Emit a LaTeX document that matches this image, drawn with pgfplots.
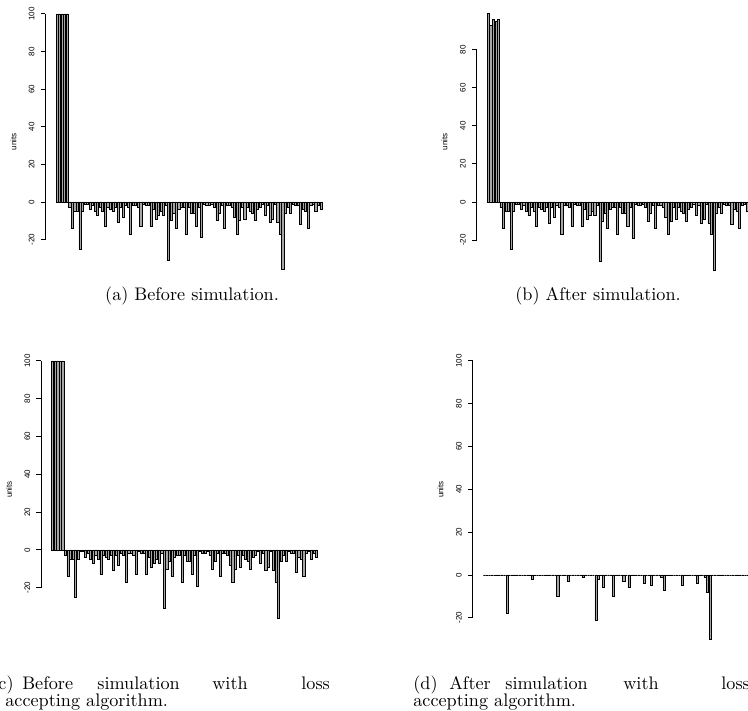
\documentclass[border=0pt]{standalone}
\usepackage{pgfplots}
\usepackage{pgfplotstable}
\pgfplotsset{compat=1.18}
\usepackage{fontspec}
\newfontfamily\rfont{Liberation Sans}
\definecolor{rgrey}{RGB}{165,165,165}

% i = bar index, a = before, b = after, d = after with loss accepting
\pgfplotstableread{
i a b d
1 100 99 0
2 100 93 0
3 100 96 0
4 100 95 0
5 100 96 0
6 -3 -3 0
7 -14 -14 0
8 -5 -5 0
9 -5 -5 0
10 -25 -25 -18
11 -5 -5 0
12 -1 -1 0
13 -1 -1 0
14 -4 -4 0
15 -2 -2 0
16 -5 -5 0
17 -7 -7 0
18 -3 -3 0
19 -5 -5 0
20 -13 -13 -2
21 -3 -3 0
22 -4 -4 0
23 -5 -5 0
24 -3 -3 0
25 -11 -11 0
26 -3 -3 0
27 -8 -8 0
28 -2 -2 0
29 -3 -3 0
30 -17 -17 -10
31 -2 -2 0
32 -2 -2 0
33 -3 -3 0
34 -13 -13 -3
35 -1 -1 0
36 -2 -2 0
37 -2 -2 0
38 -13 -13 0
39 -4 -4 0
40 -9 -9 -1
41 -7 -7 0
42 -5 -5 0
43 -7 -7 0
44 -2 -2 0
45 -31 -31 -21
46 -10 -10 -2
47 -6 -6 0
48 -14 -14 -6
49 -4 -4 0
50 -3 -3 0
51 -3 -3 0
52 -17 -17 -10
53 -3 -3 0
54 -6 -6 0
55 -6 -6 0
56 -13 -13 -3
57 -3 -3 0
58 -19 -19 -6
59 -1 -1 0
60 -2 -2 0
61 -2 -2 0
62 -1 -1 0
63 -3 -3 0
64 -10 -10 -4
65 -6 -6 0
66 -2 -2 0
67 -14 -14 -5
68 -2 -2 0
69 -2 -2 0
70 -3 -3 0
71 -8 -8 -1
72 -17 -17 -7
73 -10 -10 0
74 -3 -3 0
75 -9 -9 0
76 -3 -3 0
77 -5 -5 0
78 -6 -6 0
79 -10 -10 -5
80 -4 -4 0
81 -3 -3 0
82 -1 -1 0
83 -7 -7 0
84 -2 -2 0
85 -11 -11 -4
86 -9 -9 0
87 -1 -1 0
88 -11 -11 -1
89 -17 -17 -8
90 -36 -36 -30
91 -6 -6 0
92 -3 -3 0
93 -6 -6 0
94 -1 -1 0
95 -2 -2 0
96 -2 -2 0
97 -12 -12 0
98 -4 -4 0
99 -5 -5 0
100 -14 -14 0
101 -2 -2 0
102 -1 -1 0
103 -5 -5 0
104 -2 -2 0
105 -4 -4 0
}\units

\newcommand\rsize{\rfont\fontsize{4.4}{5}\selectfont}
\pgfplotsset{
  rbar/.style={
    scale only axis, width=158pt,
    xmin=-3.62, xmax=109.62,
    axis x line=none, axis y line*=left,
    y axis line style={draw=none},
    ybar, bar width=0.833, bar shift=0pt,
    clip=false,
    tick align=outside, major tick length=2.5pt,
    ytick style={black, line width=0.5pt},
    yticklabel style={font=\rsize, rotate=90, anchor=south, inner sep=0pt},
    yticklabel shift=3.3pt,
  },
  rfill/.style={fill=rgrey, draw=black, line width=0.38pt},
}

\begin{document}
\begin{tikzpicture}[x=0.55pt, y=0.55pt]
\useasboundingbox (0,0) rectangle (748,711);
\clip (0,0) rectangle (748,711);

% (a)
\begin{axis}[rbar, name=pa, at={(24.97pt,237.1pt)}, anchor=south west,
  height=151.9pt, ymin=-41.44, ymax=105.44,
  ytick={-20,0,20,40,60,80,100}, yticklabels={-20,0,20,40,60,80,100}]
\addplot[rfill] table[x=i, y=a] {\units};
\draw[line width=0.5pt] (axis cs:-3.62,-20) -- (axis cs:-3.62,100);
\end{axis}
\node[rotate=90, font=\rsize] at ([xshift=-17.6pt]pa.west) {units};

% (b)
\begin{axis}[rbar, name=pb, at={(262.13pt,237.1pt)}, anchor=south west,
  height=151.9pt, ymin=-41, ymax=104.3,
  ytick={-20,0,20,40,60,80}, yticklabels={-20,0,20,40,60,80}]
\addplot[rfill] table[x=i, y=b] {\units};
\draw[line width=0.5pt] (axis cs:-3.62,-20) -- (axis cs:-3.62,80);
\end{axis}
\node[rotate=90, font=\rsize] at ([xshift=-17.6pt]pb.west) {units};

% (c)
\begin{axis}[rbar, name=pc, at={(22.55pt,45.49pt)}, anchor=south west,
  height=152.7pt, ymin=-41.44, ymax=105.44,
  ytick={-20,0,20,40,60,80,100}, yticklabels={-20,0,20,40,60,80,100}]
\addplot[rfill] table[x=i, y=a] {\units};
\draw[line width=0.5pt] (axis cs:-3.62,-20) -- (axis cs:-3.62,100);
\end{axis}
\node[rotate=90, font=\rsize] at ([xshift=-17.6pt]pc.west) {units};

% (d)
\begin{axis}[rbar, name=pd, at={(259.93pt,45.49pt)}, anchor=south west,
  height=152.7pt, ymin=-24.9, ymax=104.8,
  ytick={-20,0,20,40,60,80,100}, yticklabels={-20,0,20,40,60,80,100}]
\addplot[rfill] table[x=i, y=d] {\units};
\draw[line width=0.5pt] (axis cs:-3.62,-20) -- (axis cs:-3.62,100);
\end{axis}
\node[rotate=90, font=\rsize] at ([xshift=-17.6pt]pd.west) {units};

% captions
\node[anchor=base, inner sep=0pt] at (192,410) {(a) Before simulation.};
\node[anchor=base, inner sep=0pt] at (598,410) {(b) After simulation.};
\begin{scope}[every node/.style={anchor=base west, inner sep=0pt}]
\node at (-9,21) {(c)};
\node at (22,21) {Before};
\node at (97,21) {simulation};
\node at (212,21) {with};
\node at (301,21) {loss};
\node at (5,4) {accepting algorithm.};
\node at (413,21) {(d)};
\node at (449,21) {After};
\node at (505,21) {simulation};
\node at (623,21) {with};
\node at (721,21) {loss};
\node at (413,4) {accepting algorithm.};
\end{scope}
\end{tikzpicture}
\end{document}
